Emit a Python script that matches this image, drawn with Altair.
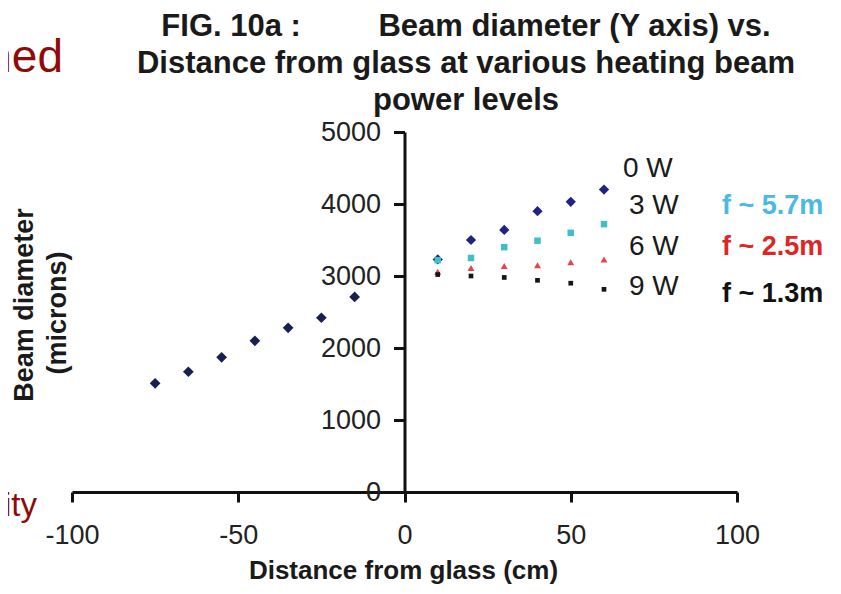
import altair as alt
import pandas as pd

# ---- data ----
x_before = [-75, -65, -55, -45, -35, -25, -15]
d_before = [1510, 1670, 1870, 2100, 2280, 2420, 2710]

x_after = [10, 20, 30, 40, 50, 60]
d_0w = [3230, 3500, 3640, 3900, 4030, 4200]
d_3w = [3220, 3250, 3400, 3490, 3600, 3720]
d_6w = [3060, 3110, 3140, 3150, 3190, 3230]
d_9w = [3020, 3000, 2980, 2940, 2900, 2815]

x_ticks = [-100, -50, 0, 50, 100]
y_ticks = [0, 1000, 2000, 3000, 4000, 5000]

title_lines = ["FIG. 10a :" + "\u00a0" * 9 + "Beam diameter (Y axis) vs.",
               "Distance from glass at various heating beam",
               "power levels"]
power_labels = ["0 W", "3 W", "6 W", "9 W"]
focal_labels = ["f ~ 5.7m", "f ~ 2.5m", "f ~ 1.3m"]

series_names = ["before", "0 W", "3 W", "6 W", "9 W"]
series_colors = ["#18204f", "#1f2383", "#3fc0c4", "#e0474c", "#151515"]
series_shapes = ["diamond", "diamond", "square", "triangle-up", "square"]
series_sizes = [115, 105, 42, 48, 22]

rows = []
for x, d in zip(x_before, d_before):
    rows.append({"x": x, "d": d, "s": "before"})
for name, vals in zip(["0 W", "3 W", "6 W", "9 W"], [d_0w, d_3w, d_6w, d_9w]):
    for x, d in zip(x_after, vals):
        rows.append({"x": x, "d": d, "s": name})
df = pd.DataFrame(rows)

W, H = 665, 360
FONT = "Liberation Sans"
AXIS_COLOR = "#111111"
y_axis_offset = -W * (0 - (-100)) / 200.0

points = alt.Chart(df).mark_point(filled=True, opacity=1, strokeWidth=0).encode(
    x=alt.X("x:Q",
            scale=alt.Scale(domain=[-100, 100], nice=False, zero=False),
            axis=alt.Axis(values=x_ticks, title="Distance from glass (cm)",
                          labelExpr="'' + datum.value",
                          grid=False, tickSize=10, tickWidth=3, domainWidth=3,
                          domainColor=AXIS_COLOR, tickColor=AXIS_COLOR,
                          labelFont=FONT, labelFontSize=27, labelColor="#222222",
                          labelBaseline="alphabetic", labelPadding=41,
                          labelFlush=False, labelOverlap=False,
                          titleFont=FONT, titleFontSize=26, titleFontWeight="bold",
                          titleColor="#1a1a1a", titleBaseline="alphabetic",
                          titleX=331, titleY=86, titleAnchor="middle")),
    y=alt.Y("d:Q",
            scale=alt.Scale(domain=[0, 5000], nice=False),
            axis=alt.Axis(values=y_ticks, title=None, offset=y_axis_offset,
                          labelExpr="'' + datum.value",
                          grid=False, tickSize=11, tickWidth=3, domainWidth=3,
                          domainColor=AXIS_COLOR, tickColor=AXIS_COLOR,
                          labelFont=FONT, labelFontSize=27, labelColor="#222222",
                          labelPadding=13, labelFlush=False, labelOverlap=False)),
    color=alt.Color("s:N", scale=alt.Scale(domain=series_names, range=series_colors), legend=None),
    shape=alt.Shape("s:N", scale=alt.Scale(domain=series_names, range=series_shapes), legend=None),
    size=alt.Size("s:N", scale=alt.Scale(type="ordinal", domain=series_names, range=series_sizes), legend=None),
    order=alt.Order("idx:Q"),
).transform_window(idx="row_number()")


def label(txt, px, py, size, color="#1a1a1a", weight="normal", align="left", angle=0):
    kw = dict(font=FONT, fontSize=size, color=color, fontWeight=weight,
              align=align, baseline="alphabetic")
    if angle:
        kw["angle"] = angle
    return alt.Chart(pd.DataFrame({"t": [txt]})).mark_text(**kw).encode(
        text="t:N", x=alt.value(px), y=alt.value(py))


layers = [points]
# chart title (three centred lines above the plot)
for txt, py in zip(title_lines, [-96, -59, -22]):
    layers.append(label(txt, 394, py, 31, weight="bold", align="center"))
# power level labels
for txt, px, py in zip(power_labels, [551, 557, 557, 557], [45, 82, 123, 163]):
    layers.append(label(txt, px, py, 28))
# focal length labels
for txt, py, col in zip(focal_labels, [82, 123, 170], ["#4cb9e2", "#de2626", "#111111"]):
    layers.append(label(txt, 650, py, 27, color=col, weight="bold"))
# y axis title (two lines)
layers.append(label("Beam diameter", -39, 173, 27, weight="bold", align="center", angle=270))
layers.append(label("(microns)", -6, 181, 27, weight="bold", align="center", angle=270))
# fragments of the surrounding slide text
layers.append(label("ned", -9, -60, 46, color="#8e0b0b", align="right"))
layers.append(label("ity", -35, 384, 33, color="#8e0b0b", align="right"))

chart = alt.layer(*layers).properties(
    width=W, height=H,
    autosize=alt.AutoSizeParams(type="none"),
    padding={"left": 64, "top": 124, "right": 96, "bottom": 94},
).configure_view(stroke=None)

chart.save("out.html", embed_options={"renderer": "svg", "actions": False})
